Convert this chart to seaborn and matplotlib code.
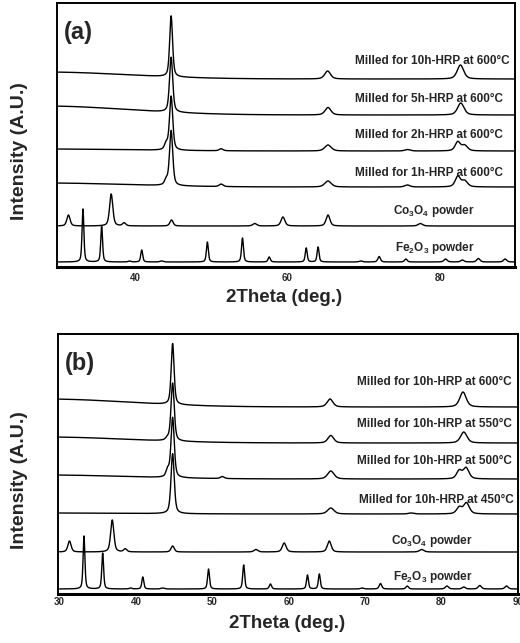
import numpy as np
import pandas as pd
import seaborn as sns
import matplotlib.pyplot as plt
import matplotlib.transforms as mtransforms

# peaks: (2theta, height, fwhm), heights in plot units
fe2o3_peaks = [(33.2, 53, 0.28), (35.65, 36, 0.28), (39.3, 1, 0.4), (40.9, 12, 0.3),
               (43.5, 1, 0.5), (49.5, 20, 0.3), (54.1, 24, 0.3), (57.6, 5, 0.35),
               (62.45, 14, 0.3), (64.0, 15, 0.3), (69.6, 1, 0.5), (72.0, 5.5, 0.4),
               (75.5, 3, 0.4), (80.7, 3, 0.5), (82.9, 2, 0.5), (85.0, 3.5, 0.5),
               (88.5, 3, 0.5)]
co3o4_peaks = [(31.3, 11, 0.5), (36.9, 32, 0.5), (38.6, 3, 0.5), (44.8, 6, 0.5),
               (55.7, 2.5, 0.6), (59.4, 9, 0.6), (65.3, 11, 0.6), (77.4, 2.5, 0.7)]

# panel (a): milling time at 600 C
milled_10h = [(44.75, 61, 0.45), (65.25, 8, 0.9), (82.65, 14, 1.0)]
milled_5h = [(44.75, 55, 0.5), (65.3, 7.5, 0.9), (82.7, 12, 1.0)]
milled_2h = [(44.1, 6, 0.5), (44.75, 54, 0.5), (51.3, 2, 0.6), (65.3, 6, 1.0),
             (75.7, 1.5, 0.8), (82.3, 9, 0.8), (83.2, 5.5, 0.9)]
milled_1h = [(44.1, 5, 0.5), (44.75, 55, 0.5), (51.3, 2.5, 0.6), (65.3, 6, 1.0),
             (75.7, 2, 0.8), (82.3, 10.5, 0.8), (83.2, 6, 0.9)]

# panel (b): 10h milled, HRP temperature
hrp_600 = [(44.8, 61, 0.45), (65.4, 8, 0.9), (82.8, 15, 1.0)]
hrp_550 = [(44.1, 2, 0.5), (44.8, 58, 0.5), (65.5, 7.5, 0.9), (82.9, 11, 1.0)]
hrp_500 = [(44.15, 7, 0.5), (44.8, 60, 0.5), (51.3, 2, 0.6), (65.5, 8, 1.0),
           (82.3, 8, 0.8), (83.2, 11, 0.9)]
hrp_450 = [(44.8, 60, 0.5), (65.5, 6, 1.0), (76.0, 1, 0.8), (82.3, 6.5, 0.8),
           (83.25, 11, 0.9)]

labels_a = ["Milled for 10h-HRP at 600°C", "Milled for 5h-HRP at 600°C",
            "Milled for 2h-HRP at 600°C", "Milled for 1h-HRP at 600°C",
            "Co$_3$O$_4$ powder", "Fe$_2$O$_3$ powder"]
labels_b = ["Milled for 10h-HRP at 600°C", "Milled for 10h-HRP at 550°C",
            "Milled for 10h-HRP at 500°C", "Milled for 10h-HRP at 450°C",
            "Co$_3$O$_4$ powder", "Fe$_2$O$_3$ powder"]

peaks_a = [milled_10h, milled_5h, milled_2h, milled_1h, co3o4_peaks, fe2o3_peaks]
peaks_b = [hrp_600, hrp_550, hrp_500, hrp_450, co3o4_peaks, fe2o3_peaks]
offsets_a = [188, 152, 116, 80, 41, 5]
offsets_b = [187, 151, 115, 80, 42, 5]
# low-angle background rise of each pattern
rise_a = [7, 9, 2, 4, 0, 0]
rise_b = [8, 6, 4, 1, 0, 0]
ticks_a = [40, 60, 80]
ticks_b = [30, 40, 50, 60, 70, 80, 90]

two_theta = np.arange(30, 89.95, 0.02)


def pattern(peaks, rise):
    y = rise * np.exp(-0.5 * ((two_theta - 28) / 11) ** 2)
    for pos, h, w in peaks:
        g = np.exp(-4 * np.log(2) * ((two_theta - pos) / w) ** 2)
        lor = 1 / (1 + 4 * ((two_theta - pos) / w) ** 2)
        y = y + h * (0.5 * g + 0.5 * lor)
    return y


sns.set_style("white")
plt.rcParams['font.family'] = ['Liberation Sans', 'DejaVu Sans']
plt.rcParams['font.weight'] = 'bold'
plt.rcParams['mathtext.fontset'] = 'custom'
plt.rcParams['mathtext.rm'] = 'Liberation Sans:bold'
plt.rcParams['mathtext.it'] = 'Liberation Sans:bold'

fig = plt.figure(figsize=(5.2, 6.43), dpi=100)
ax_a = fig.add_axes([57 / 520, 1 - 267 / 643, 458 / 520, 264 / 643])
ax_b = fig.add_axes([58 / 520, 1 - 594 / 643, 460 / 520, 260 / 643])

panels = [
    (ax_a, peaks_a, offsets_a, rise_a, labels_a, ticks_a, "(a)", (29.8, 89.8), 264,
     [0.989, 0.974, 0.974, 0.974, 0.913, 0.913], [203, 165, 129, 91, 53, 16]),
    (ax_b, peaks_b, offsets_b, rise_b, labels_b, ticks_b, "(b)", (29.8, 90.0), 260,
     [0.987, 0.987, 0.987, 0.991, 0.902, 0.902], [209, 167, 130, 91, 50, 14]),
]

for ax, peaks, offs, rises, labels, ticks, tag, xl, h, lx, ly in panels:
    for pk, off, r in zip(peaks, offs, rises):
        df = pd.DataFrame({"2theta": two_theta, "I": off + pattern(pk, r)})
        sns.lineplot(data=df, x="2theta", y="I", ax=ax, color="black",
                     linewidth=1.0, estimator=None, sort=False)
    trans = mtransforms.blended_transform_factory(ax.transAxes, ax.transData)
    for text, x, y in zip(labels, lx, ly):
        ax.text(x, y, text, transform=trans, ha="right", va="baseline",
                fontsize=8.5, fontweight="bold")
    ax.text(0.014, 0.93, tag, transform=ax.transAxes, ha="left", va="top",
            fontsize=17, fontweight="bold")
    ax.set_xlim(*xl)
    ax.set_ylim(0, h)
    ax.set_xticks(ticks)
    ax.set_xticklabels([str(t) for t in ticks], fontsize=7, fontweight="bold")
    ax.set_yticks([])
    ax.tick_params(axis="x", length=0, pad=4)
    ax.set_xlabel("")
    ax.set_ylabel("")
    for s in ax.spines.values():
        s.set_linewidth(1.4)
        s.set_color("black")
    ax.spines["bottom"].set_linewidth(2.2)

ax_b.tick_params(axis="x", pad=2.5)

fig.text(284 / 520, 1 - 298 / 643, "2Theta (deg.)", ha="center", va="center",
         fontsize=13.5, fontweight="bold")
fig.text(287 / 520, 1 - 624 / 643, "2Theta (deg.)", ha="center", va="center",
         fontsize=13.5, fontweight="bold")
fig.text(20 / 520, 1 - 151 / 643, "Intensity (A.U.)", ha="center", va="center",
         rotation=90, fontsize=14, fontweight="bold")
fig.text(20 / 520, 1 - 480 / 643, "Intensity (A.U.)", ha="center", va="center",
         rotation=90, fontsize=14, fontweight="bold")

fig.savefig("out.png", dpi=100)
